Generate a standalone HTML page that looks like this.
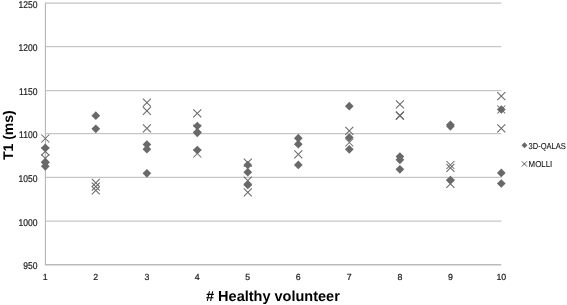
<!DOCTYPE html>
<html><head><meta charset="utf-8"><style>
html,body{margin:0;padding:0;background:#fff;}
body{width:567px;height:305px;overflow:hidden;}
svg{display:block;will-change:transform;}
text{font-family:"Liberation Sans",sans-serif;fill:#262626;text-rendering:geometricPrecision;}
.yl{font-size:9.8px;text-anchor:end;fill:#222;stroke:#222;stroke-width:0.22px;}
.xl{font-size:8.8px;text-anchor:middle;fill:#222;stroke:#222;stroke-width:0.22px;}
.lg{font-size:8.6px;fill:#1a1a1a;stroke:#1a1a1a;stroke-width:0.12px;}
.xt{font-size:14.5px;font-weight:bold;text-anchor:middle;fill:#000;}
.yt{font-size:14px;font-weight:bold;text-anchor:middle;fill:#000;}
</style></head><body>
<svg width="567" height="305" viewBox="0 0 567 305">
<line x1="45.4" y1="3.2" x2="501.3" y2="3.2" stroke="#c6c6c6" stroke-width="1.25"/>
<line x1="45.4" y1="46.7" x2="501.3" y2="46.7" stroke="#c6c6c6" stroke-width="1.25"/>
<line x1="45.4" y1="90.5" x2="501.3" y2="90.5" stroke="#c6c6c6" stroke-width="1.25"/>
<line x1="45.4" y1="133.7" x2="501.3" y2="133.7" stroke="#c6c6c6" stroke-width="1.25"/>
<line x1="45.4" y1="177.4" x2="501.3" y2="177.4" stroke="#c6c6c6" stroke-width="1.25"/>
<line x1="45.4" y1="221.0" x2="501.3" y2="221.0" stroke="#c6c6c6" stroke-width="1.25"/>
<line x1="45.4" y1="264.8" x2="501.3" y2="264.8" stroke="#bababa" stroke-width="1.4"/>
<line x1="45.4" y1="2.7" x2="45.4" y2="265.3" stroke="#b6b6b6" stroke-width="1.1"/>
<text transform="translate(37.4,7.7) scale(0.87,1)" class="yl">1250</text>
<text transform="translate(37.4,51.2) scale(0.87,1)" class="yl">1200</text>
<text transform="translate(37.4,95.0) scale(0.87,1)" class="yl">1150</text>
<text transform="translate(37.4,138.2) scale(0.87,1)" class="yl">1100</text>
<text transform="translate(37.4,181.9) scale(0.87,1)" class="yl">1050</text>
<text transform="translate(37.4,225.5) scale(0.87,1)" class="yl">1000</text>
<text transform="translate(37.4,269.3) scale(0.87,1)" class="yl">950</text>
<text x="45.3" y="279.7" class="xl">1</text>
<text x="95.8" y="279.7" class="xl">2</text>
<text x="146.9" y="279.7" class="xl">3</text>
<text x="197.3" y="279.7" class="xl">4</text>
<text x="247.8" y="279.7" class="xl">5</text>
<text x="298.3" y="279.7" class="xl">6</text>
<text x="349.3" y="279.7" class="xl">7</text>
<text x="399.9" y="279.7" class="xl">8</text>
<text x="450.4" y="279.7" class="xl">9</text>
<text x="501.3" y="279.7" class="xl">10</text>
<path d="M41.30 134.50L49.30 142.50M49.30 134.50L41.30 142.50" stroke="#6a6a6a" stroke-width="1.05" fill="none"/>
<path d="M41.30 147.40L49.30 155.40M49.30 147.40L41.30 155.40" stroke="#6a6a6a" stroke-width="1.05" fill="none"/>
<path d="M41.30 154.30L49.30 162.30M49.30 154.30L41.30 162.30" stroke="#6a6a6a" stroke-width="1.05" fill="none"/>
<path d="M91.80 178.90L99.80 186.90M99.80 178.90L91.80 186.90" stroke="#6a6a6a" stroke-width="1.05" fill="none"/>
<path d="M91.80 182.60L99.80 190.60M99.80 182.60L91.80 190.60" stroke="#6a6a6a" stroke-width="1.05" fill="none"/>
<path d="M91.80 186.40L99.80 194.40M99.80 186.40L91.80 194.40" stroke="#6a6a6a" stroke-width="1.05" fill="none"/>
<path d="M142.90 98.60L150.90 106.60M150.90 98.60L142.90 106.60" stroke="#6a6a6a" stroke-width="1.05" fill="none"/>
<path d="M142.90 106.90L150.90 114.90M150.90 106.90L142.90 114.90" stroke="#6a6a6a" stroke-width="1.05" fill="none"/>
<path d="M142.90 124.30L150.90 132.30M150.90 124.30L142.90 132.30" stroke="#6a6a6a" stroke-width="1.05" fill="none"/>
<path d="M193.30 109.30L201.30 117.30M201.30 109.30L193.30 117.30" stroke="#6a6a6a" stroke-width="1.05" fill="none"/>
<path d="M193.30 124.60L201.30 132.60M201.30 124.60L193.30 132.60" stroke="#6a6a6a" stroke-width="1.05" fill="none"/>
<path d="M193.30 149.50L201.30 157.50M201.30 149.50L193.30 157.50" stroke="#6a6a6a" stroke-width="1.05" fill="none"/>
<path d="M243.80 158.70L251.80 166.70M251.80 158.70L243.80 166.70" stroke="#6a6a6a" stroke-width="1.05" fill="none"/>
<path d="M243.80 176.60L251.80 184.60M251.80 176.60L243.80 184.60" stroke="#6a6a6a" stroke-width="1.05" fill="none"/>
<path d="M243.80 188.30L251.80 196.30M251.80 188.30L243.80 196.30" stroke="#6a6a6a" stroke-width="1.05" fill="none"/>
<path d="M294.30 150.40L302.30 158.40M302.30 150.40L294.30 158.40" stroke="#6a6a6a" stroke-width="1.05" fill="none"/>
<path d="M345.30 126.80L353.30 134.80M353.30 126.80L345.30 134.80" stroke="#6a6a6a" stroke-width="1.05" fill="none"/>
<path d="M345.30 138.50L353.30 146.50M353.30 138.50L345.30 146.50" stroke="#6a6a6a" stroke-width="1.05" fill="none"/>
<path d="M395.90 100.30L403.90 108.30M403.90 100.30L395.90 108.30" stroke="#6a6a6a" stroke-width="1.05" fill="none"/>
<path d="M395.90 111.40L403.90 119.40M403.90 111.40L395.90 119.40" stroke="#6a6a6a" stroke-width="1.05" fill="none"/>
<path d="M395.90 111.90L403.90 119.90M403.90 111.90L395.90 119.90" stroke="#6a6a6a" stroke-width="1.05" fill="none"/>
<path d="M446.40 161.00L454.40 169.00M454.40 161.00L446.40 169.00" stroke="#6a6a6a" stroke-width="1.05" fill="none"/>
<path d="M446.40 163.90L454.40 171.90M454.40 163.90L446.40 171.90" stroke="#6a6a6a" stroke-width="1.05" fill="none"/>
<path d="M446.40 179.80L454.40 187.80M454.40 179.80L446.40 187.80" stroke="#6a6a6a" stroke-width="1.05" fill="none"/>
<path d="M497.30 92.20L505.30 100.20M505.30 92.20L497.30 100.20" stroke="#6a6a6a" stroke-width="1.05" fill="none"/>
<path d="M497.30 105.50L505.30 113.50M505.30 105.50L497.30 113.50" stroke="#6a6a6a" stroke-width="1.05" fill="none"/>
<path d="M497.30 124.30L505.30 132.30M505.30 124.30L497.30 132.30" stroke="#6a6a6a" stroke-width="1.05" fill="none"/>
<path d="M45.30 143.55L49.65 147.90L45.30 152.25L40.95 147.90Z" fill="#696969"/>
<path d="M45.30 158.25L49.65 162.60L45.30 166.95L40.95 162.60Z" fill="#696969"/>
<path d="M45.30 161.95L49.65 166.30L45.30 170.65L40.95 166.30Z" fill="#696969"/>
<path d="M95.80 111.35L100.15 115.70L95.80 120.05L91.45 115.70Z" fill="#696969"/>
<path d="M95.80 124.45L100.15 128.80L95.80 133.15L91.45 128.80Z" fill="#696969"/>
<path d="M146.90 140.15L151.25 144.50L146.90 148.85L142.55 144.50Z" fill="#696969"/>
<path d="M146.90 144.85L151.25 149.20L146.90 153.55L142.55 149.20Z" fill="#696969"/>
<path d="M146.90 168.95L151.25 173.30L146.90 177.65L142.55 173.30Z" fill="#696969"/>
<path d="M197.30 121.65L201.65 126.00L197.30 130.35L192.95 126.00Z" fill="#696969"/>
<path d="M197.30 128.45L201.65 132.80L197.30 137.15L192.95 132.80Z" fill="#696969"/>
<path d="M197.30 145.65L201.65 150.00L197.30 154.35L192.95 150.00Z" fill="#696969"/>
<path d="M247.80 160.65L252.15 165.00L247.80 169.35L243.45 165.00Z" fill="#696969"/>
<path d="M247.80 167.85L252.15 172.20L247.80 176.55L243.45 172.20Z" fill="#696969"/>
<path d="M247.80 180.55L252.15 184.90L247.80 189.25L243.45 184.90Z" fill="#696969"/>
<path d="M298.30 133.85L302.65 138.20L298.30 142.55L293.95 138.20Z" fill="#696969"/>
<path d="M298.30 139.85L302.65 144.20L298.30 148.55L293.95 144.20Z" fill="#696969"/>
<path d="M298.30 160.55L302.65 164.90L298.30 169.25L293.95 164.90Z" fill="#696969"/>
<path d="M349.30 101.85L353.65 106.20L349.30 110.55L344.95 106.20Z" fill="#696969"/>
<path d="M349.30 133.15L353.65 137.50L349.30 141.85L344.95 137.50Z" fill="#696969"/>
<path d="M349.30 144.95L353.65 149.30L349.30 153.65L344.95 149.30Z" fill="#696969"/>
<path d="M399.90 152.15L404.25 156.50L399.90 160.85L395.55 156.50Z" fill="#696969"/>
<path d="M399.90 155.45L404.25 159.80L399.90 164.15L395.55 159.80Z" fill="#696969"/>
<path d="M399.90 164.95L404.25 169.30L399.90 173.65L395.55 169.30Z" fill="#696969"/>
<path d="M450.40 120.45L454.75 124.80L450.40 129.15L446.05 124.80Z" fill="#696969"/>
<path d="M450.40 121.95L454.75 126.30L450.40 130.65L446.05 126.30Z" fill="#696969"/>
<path d="M450.40 175.65L454.75 180.00L450.40 184.35L446.05 180.00Z" fill="#696969"/>
<path d="M501.30 105.15L505.65 109.50L501.30 113.85L496.95 109.50Z" fill="#696969"/>
<path d="M501.30 168.55L505.65 172.90L501.30 177.25L496.95 172.90Z" fill="#696969"/>
<path d="M501.30 179.15L505.65 183.50L501.30 187.85L496.95 183.50Z" fill="#696969"/>
<path d="M524.50 142.20L527.50 145.20L524.50 148.20L521.50 145.20Z" fill="#696969"/>
<text x="528.6" y="149.0" class="lg" textLength="37.2" lengthAdjust="spacingAndGlyphs">3D-QALAS</text>
<path d="M521.85 161.35L526.95 166.45M526.95 161.35L521.85 166.45" stroke="#505050" stroke-width="0.95" fill="none"/>
<text x="528.6" y="167.4" class="lg" textLength="23.6" lengthAdjust="spacingAndGlyphs">MOLLI</text>
<text x="272.9" y="300.7" class="xt"># Healthy volunteer</text>
<text transform="translate(13.0,135.2) rotate(-90)" class="yt">T1 (ms)</text>
</svg>
</body></html>
